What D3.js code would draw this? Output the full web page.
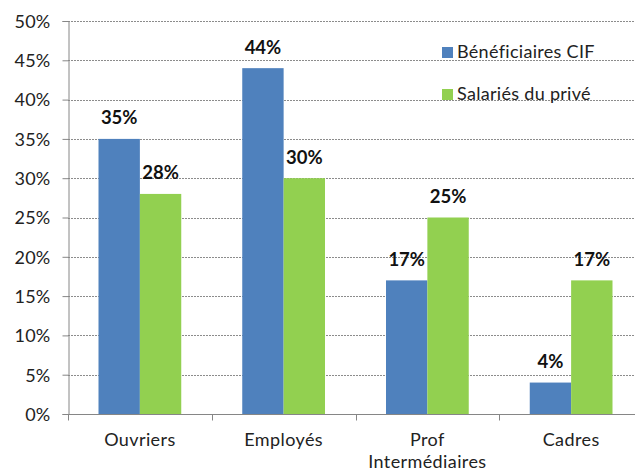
<!DOCTYPE html>
<html>
<head>
<meta charset="utf-8">
<script src="https://cdn.jsdelivr.net/npm/d3@7"></script>
<style>
  body { margin: 0; background: #fff; }
  text { font-family: Lato, "Open Sans", sans-serif; }
</style>
</head>
<body>
<div id="chart"></div>
<script>
// data
const categories = ["Ouvriers", "Employés", "Prof\nIntermédiaires", "Cadres"];
const seriesNames = ["Bénéficiaires CIF", "Salariés du privé"];
const beneficiaires = [35, 44, 17, 4];
const salaries = [28, 30, 25, 17];
const yTicks = [0, 5, 10, 15, 20, 25, 30, 35, 40, 45, 50];
const colors = ["#4F81BD", "#92D050"];

const width = 635, height = 471;
const margin = { left: 68, top: 21, bottom: 57 };
const plotRight = 643; // plot runs slightly past the window edge

const svg = d3.select("#chart").append("svg")
    .attr("width", width)
    .attr("height", height);

const x = d3.scaleBand()
    .domain(categories)
    .range([margin.left, plotRight])
    .paddingInner(0)
    .paddingOuter(0);

const y = d3.scaleLinear()
    .domain([0, 50])
    .range([height - margin.bottom, margin.top]);

const bandPad = 30.5;
const xs = d3.scaleBand()
    .domain([0, 1])
    .range([bandPad, x.bandwidth() - bandPad]);

// gridlines
svg.append("g")
    .selectAll("line")
    .data(yTicks.filter(d => d > 0))
    .enter().append("line")
    .attr("x1", margin.left)
    .attr("x2", plotRight)
    .attr("y1", d => Math.round(y(d)) + 0.5)
    .attr("y2", d => Math.round(y(d)) + 0.5)
    .style("stroke", "#8c8c8c")
    .style("stroke-width", 1)
    .style("stroke-dasharray", "2,1");

// y axis
const yAxis = svg.append("g")
    .attr("transform", `translate(${margin.left + 0.5},0)`)
    .call(d3.axisLeft(y).tickValues(yTicks).tickSize(6).tickPadding(12).tickFormat(d => d + "%"));
yAxis.select(".domain").attr("stroke", "#868686");
yAxis.selectAll(".tick line").attr("stroke", "#868686");
yAxis.selectAll(".tick text")
    .style("font-size", "18px")
    .style("letter-spacing", "0.2px")
    .style("fill", "#222")
    .attr("dy", "0.35em");

// bars
const series = [beneficiaires, salaries];
series.forEach((vals, si) => {
    svg.append("g")
        .selectAll("rect")
        .data(vals)
        .enter().append("rect")
        .attr("x", (d, i) => x(categories[i]) + xs(si))
        .attr("y", d => y(d))
        .attr("width", xs.bandwidth())
        .attr("height", d => y(0) - y(d))
        .style("fill", colors[si]);

    svg.append("g")
        .selectAll("text")
        .data(vals)
        .enter().append("text")
        .attr("x", (d, i) => x(categories[i]) + xs(si) + xs.bandwidth() / 2)
        .attr("y", d => y(d) - 14.5)
        .attr("text-anchor", "middle")
        .style("font-size", "18.5px")
        .style("font-weight", "bold")
        .style("fill", "#111")
        .text(d => d + "%");
});

// x axis
const x0 = Math.round(y(0)) + 0.5;
svg.append("line")
    .attr("x1", margin.left)
    .attr("x2", plotRight)
    .attr("y1", x0)
    .attr("y2", x0)
    .style("stroke", "#868686");

svg.append("g")
    .selectAll("line")
    .data(categories.concat([null]))
    .enter().append("line")
    .attr("x1", (d, i) => Math.round(margin.left + i * x.bandwidth()) + 0.5)
    .attr("x2", (d, i) => Math.round(margin.left + i * x.bandwidth()) + 0.5)
    .attr("y1", x0)
    .attr("y2", x0 + 6)
    .style("stroke", "#868686");

const catLabels = svg.append("g")
    .selectAll("text")
    .data(categories)
    .enter().append("text")
    .attr("x", d => x(d) + x.bandwidth() / 2)
    .attr("y", 446)
    .attr("text-anchor", "middle")
    .style("font-size", "18px")
    .style("letter-spacing", "0.4px")
    .style("fill", "#222");
catLabels.each(function(d) {
    const lines = d.split("\n");
    d3.select(this).selectAll("tspan")
        .data(lines)
        .enter().append("tspan")
        .attr("x", x(d) + x.bandwidth() / 2)
        .attr("dy", (l, i) => i === 0 ? 0 : 22)
        .text(l => l);
});

// legend
const legend = svg.append("g");
seriesNames.forEach((name, i) => {
    const ly = 47 + i * 42;
    legend.append("rect")
        .attr("x", 442)
        .attr("y", ly)
        .attr("width", 11)
        .attr("height", 11)
        .style("fill", colors[i]);
    legend.append("text")
        .attr("x", 457)
        .attr("y", ly + 11)
        .style("font-size", "18px")
        .style("letter-spacing", "0.3px")
        .style("fill", "#222")
        .text(name);
});
</script>
</body>
</html>
